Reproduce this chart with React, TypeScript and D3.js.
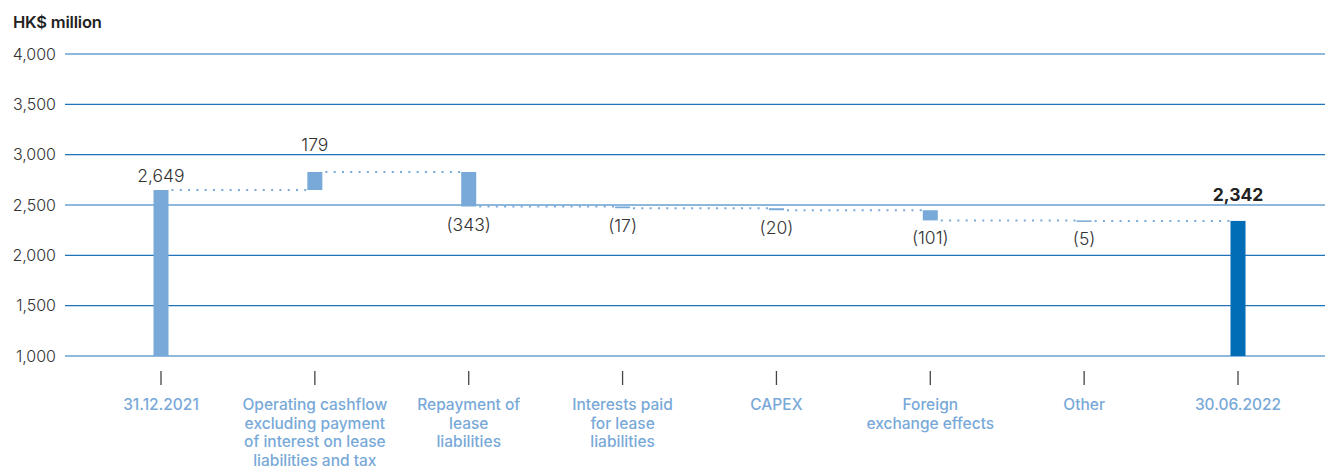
import React from "react";
import * as d3 from "d3";

const categories = [
  "31.12.2021",
  "Operating cashflow\nexcluding payment\nof interest on lease\nliabilities and tax",
  "Repayment of\nlease\nliabilities",
  "Interests paid\nfor lease\nliabilities",
  "CAPEX",
  "Foreign\nexchange effects",
  "Other",
  "30.06.2022",
];
const startValue = 2649;
const deltas = [179, -343, -17, -20, -101, -5];
const endValue = 2342;
const yTicks = [1000, 1500, 2000, 2500, 3000, 3500, 4000];
const unitLabel = "HK$ million";

const W = 1325;
const H = 467;
const FONT = "Inter, 'Noto Sans', sans-serif";

export default function App() {
  const x = d3.scalePoint<string>().domain(categories).range([161, 1238]);
  const y = d3.scaleLinear().domain([1000, 4000]).range([356, 54]);
  const bw = 15;
  const fmt = d3.format(",");

  type Bar = { cat: string; y0: number; y1: number; kind: "total" | "delta" | "end"; v: number };
  const bars: Bar[] = [];
  let run = startValue;
  bars.push({ cat: categories[0], y0: 1000, y1: startValue, kind: "total", v: startValue });
  deltas.forEach((d, i) => {
    const next = run + d;
    bars.push({ cat: categories[i + 1], y0: run, y1: next, kind: "delta", v: d });
    run = next;
  });
  bars.push({ cat: categories[7], y0: 1000, y1: endValue, kind: "end", v: endValue });

  const levels = bars.map((b) => b.y1);

  return (
    <svg width={W} height={H} style={{ position: "absolute", left: 0, top: 0 }} fontFamily={FONT}>
      <rect width={W} height={H} fill="#fff" />
      <text x={13} y={28} fontSize={16.5} fontWeight={600} fill="#222" letterSpacing={-0.2}>
        {unitLabel}
      </text>
      {yTicks.map((t) => (
        <g key={t}>
          <line x1={65} x2={W} y1={y(t)} y2={y(t)} stroke="#1f73b9" strokeWidth={1.2} />
          <text x={56} y={y(t) + 5.5} fontSize={16} fontWeight={300} textAnchor="end" fill="#333">
            {fmt(t)}
          </text>
        </g>
      ))}
      {levels.slice(0, -1).map((lv, i) => (
        <line
          key={"c" + i}
          x1={(x(categories[i]) as number) + bw / 2 + 3}
          x2={(x(categories[i + 1]) as number) - bw / 2}
          y1={y(lv)}
          y2={y(lv)}
          stroke="#7aaad9"
          strokeWidth={2}
          strokeDasharray="2 6.3"
        />
      ))}
      {bars.map((b, i) => {
        const cx = x(b.cat) as number;
        const top = y(Math.max(b.y0, b.y1));
        const bot = y(Math.min(b.y0, b.y1));
        const h = Math.max(bot - top, 1.5);
        const neg = b.kind === "delta" && b.v < 0;
        let label = "";
        let ly = 0;
        if (b.kind === "total") {
          label = fmt(b.v);
          ly = top - 8;
        } else if (b.kind === "end") {
          label = fmt(b.v);
          ly = top - 20;
        } else if (neg) {
          label = "(" + fmt(-b.v) + ")";
          ly = bot + 24;
        } else {
          label = fmt(b.v);
          ly = top - 21;
        }
        return (
          <g key={"b" + i}>
            <rect
              x={cx - bw / 2}
              y={top}
              width={bw}
              height={h}
              fill={b.kind === "end" ? "#006db6" : "#78a9d8"}
            />
            <text
              x={cx}
              y={ly}
              fontSize={17.5}
              textAnchor="middle"
              fill={b.kind === "end" ? "#222" : "#333"}
              fontWeight={b.kind === "end" ? 700 : 300}
            >
              {label}
            </text>
          </g>
        );
      })}
      {categories.map((c) => {
        const cx = x(c) as number;
        return (
          <g key={"x" + c}>
            <line x1={cx} x2={cx} y1={371} y2={385} stroke="#444" strokeWidth={1.3} />
            <text x={cx} y={410} fontSize={15.5} fontWeight={500} textAnchor="middle" fill="#78a9d8">
              {c.split("\n").map((ln, j) => (
                <tspan key={j} x={cx} dy={j === 0 ? 0 : 18.5}>
                  {ln}
                </tspan>
              ))}
            </text>
          </g>
        );
      })}
    </svg>
  );
}
